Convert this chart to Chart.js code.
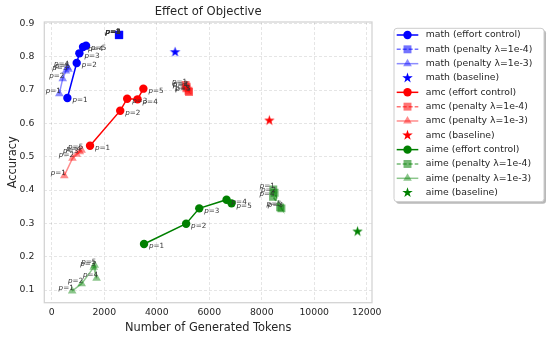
<!DOCTYPE html>
<html>
<head>
<meta charset="utf-8">
<script src="https://cdn.jsdelivr.net/npm/chart.js@4"></script>
<style>
  html, body { margin: 0; padding: 0; background: #fff; }
  canvas { display: block; }
</style>
</head>
<body>
<canvas id="chart" width="548" height="342"></canvas>
<script>
// tick labels
const xTicks = [0, 2000, 4000, 6000, 8000, 10000, 12000];
const yTicks = [0.1, 0.2, 0.3, 0.4, 0.5, 0.6, 0.7, 0.8, 0.9];
const pLabels = ['1', '2', '3', '4', '5'];

// math
const mathEffortX = [597, 952, 1054, 1194, 1308];
const mathEffortY = [0.676, 0.781, 0.810, 0.829, 0.833];
const mathPen4X = [2555, 2565, 2560, 2570, 2575];
const mathPen4Y = [0.865, 0.866, 0.864, 0.865, 0.866];
const mathPen3X = [290, 420, 540, 600, 640];
const mathPen3Y = [0.689, 0.734, 0.757, 0.768, 0.762];
const mathBaseX = [4700];
const mathBaseY = [0.815];

// amc
const amcEffortX = [1460, 2610, 2875, 3270, 3492];
const amcEffortY = [0.533, 0.638, 0.674, 0.672, 0.704];
const amcPen4X = [5100, 5140, 5210, 5130, 5230];
const amcPen4Y = [0.715, 0.710, 0.698, 0.705, 0.694];
const amcPen3X = [480, 790, 950, 1070, 1140];
const amcPen3Y = [0.443, 0.495, 0.507, 0.515, 0.519];
const amcBaseX = [8290];
const amcBaseY = [0.610];

// aime
const aimeEffortX = [3517, 5120, 5620, 6660, 6850];
const aimeEffortY = [0.238, 0.299, 0.345, 0.371, 0.360];
const aimePen4X = [8440, 8490, 8750, 8430, 8700];
const aimePen4Y = [0.402, 0.392, 0.345, 0.380, 0.348];
const aimePen3X = [780, 1140, 1600, 1710, 1640];
const aimePen3Y = [0.097, 0.119, 0.168, 0.135, 0.174];
const aimeBaseX = [11650];
const aimeBaseY = [0.277];

const FONT = "'DejaVu Sans', sans-serif";
const TEXT = '#262626';
const rgba = (rgb, a) => `rgba(${rgb},${a})`;

// style per series kind
const KIND = {
    effort: { shape: 'circle', alpha: 1, dash: [], line: true, radius: 4.2 },
    pen4: { shape: 'rect', alpha: 0.55, dash: [4, 2], line: true, radius: 5.6 },
    pen3: { shape: 'triangle', alpha: 0.45, dash: [], line: true, radius: 5 },
    base: { shape: 'star', alpha: 1, dash: [], line: false, radius: 5.5 }
};

const series = [
    ['math (effort control)', mathEffortX, mathEffortY, '0,0,255', 'effort'],
    ['math (penalty λ=1e-4)', mathPen4X, mathPen4Y, '0,0,255', 'pen4'],
    ['math (penalty λ=1e-3)', mathPen3X, mathPen3Y, '0,0,255', 'pen3'],
    ['math (baseline)', mathBaseX, mathBaseY, '0,0,255', 'base'],
    ['amc (effort control)', amcEffortX, amcEffortY, '255,0,0', 'effort'],
    ['amc (penalty λ=1e-4)', amcPen4X, amcPen4Y, '255,0,0', 'pen4'],
    ['amc (penalty λ=1e-3)', amcPen3X, amcPen3Y, '255,0,0', 'pen3'],
    ['amc (baseline)', amcBaseX, amcBaseY, '255,0,0', 'base'],
    ['aime (effort control)', aimeEffortX, aimeEffortY, '0,128,0', 'effort'],
    ['aime (penalty λ=1e-4)', aimePen4X, aimePen4Y, '0,128,0', 'pen4'],
    ['aime (penalty λ=1e-3)', aimePen3X, aimePen3Y, '0,128,0', 'pen3'],
    ['aime (baseline)', aimeBaseX, aimeBaseY, '0,128,0', 'base']
];

function starPath(ctx, cx, cy, R) {
    const r = R * 0.382;
    ctx.beginPath();
    for (let k = 0; k < 10; k++) {
        const ang = -Math.PI / 2 + k * Math.PI / 5;
        const rad = k % 2 ? r : R;
        const px = cx + rad * Math.cos(ang), py = cy + rad * Math.sin(ang);
        k ? ctx.lineTo(px, py) : ctx.moveTo(px, py);
    }
    ctx.closePath();
}

function starImage(color, R) {
    const c = document.createElement('canvas');
    const s = Math.ceil(R * 2 + 2);
    c.width = c.height = s;
    const g = c.getContext('2d');
    g.fillStyle = color;
    starPath(g, s / 2, s / 2 + 0.5, R);
    g.fill();
    return c;
}

const datasets = series.map(([label, xs, ys, rgb, kind], i) => {
    const k = KIND[kind];
    const col = rgba(rgb, k.alpha);
    return {
        label, kind, rgb,
        data: xs.map((x, j) => ({ x, y: ys[j] })),
        showLine: k.line,
        borderColor: col, borderWidth: 1.5, borderDash: k.dash,
        pointStyle: kind === 'base' ? starImage(col, k.radius) : k.shape,
        pointRadius: k.radius, pointHoverRadius: k.radius,
        pointBackgroundColor: col, pointBorderColor: col, pointBorderWidth: 0,
        order: series.length - i
    };
});

// plot frame (all four spines)
const frame = {
    id: 'frame',
    afterDatasetsDraw(chart) {
        const { ctx, chartArea: a } = chart;
        ctx.save();
        ctx.strokeStyle = '#d2d2d2';
        ctx.lineWidth = 1.25;
        ctx.strokeRect(a.left, a.top, a.right - a.left, a.bottom - a.top);
        ctx.restore();
    }
};

// "p=N" annotations
const pointLabels = {
    id: 'pointLabels',
    afterDatasetsDraw(chart) {
        const ctx = chart.ctx;
        ctx.save();
        ctx.fillStyle = '#333';
        ctx.textBaseline = 'middle';
        chart.data.datasets.forEach((ds, i) => {
            if (ds.kind === 'base') return;
            chart.getDatasetMeta(i).data.forEach((el, j) => {
                const rest = '=' + pLabels[j];
                ctx.font = `italic 7.2px ${FONT}`;
                const wp = ctx.measureText('p').width;
                ctx.font = `7.2px ${FONT}`;
                const wr = ctx.measureText(rest).width;
                let x0, y0;
                if (ds.kind === 'effort') { x0 = el.x + 5; y0 = el.y + 2.5; }
                else { x0 = el.x - 6 - (wp + wr) / 2; y0 = el.y - 3; }
                ctx.textAlign = 'left';
                ctx.font = `italic 7.2px ${FONT}`;
                ctx.fillText('p', x0, y0);
                ctx.font = `7.2px ${FONT}`;
                ctx.fillText(rest, x0 + wp, y0);
            });
        });
        ctx.restore();
    }
};

// title, axis titles and legend box
const decorations = {
    id: 'decorations',
    afterDraw(chart) {
        const { ctx, chartArea: a } = chart;
        ctx.save();
        ctx.fillStyle = TEXT;
        ctx.textAlign = 'center';
        ctx.textBaseline = 'middle';
        ctx.font = `11.6px ${FONT}`;
        ctx.fillText('Effect of Objective', (a.left + a.right) / 2, 11.7);
        ctx.font = `11.4px ${FONT}`;
        ctx.fillText('Number of Generated Tokens', (a.left + a.right) / 2, 328.5);
        ctx.translate(12.7, (a.top + a.bottom) / 2);
        ctx.rotate(-Math.PI / 2);
        ctx.fillText('Accuracy', 0, 0);
        ctx.restore();

        // legend
        const bx = 394, by = 28.3, bw = 150, bh = 173.4;
        ctx.save();
        ctx.fillStyle = 'rgba(0,0,0,0.28)';
        ctx.beginPath();
        ctx.roundRect(bx + 2, by + 2, bw, bh, 3);
        ctx.fill();
        ctx.fillStyle = '#fff';
        ctx.strokeStyle = '#cccccc';
        ctx.lineWidth = 1;
        ctx.beginPath();
        ctx.roundRect(bx, by, bw, bh, 3);
        ctx.fill();
        ctx.stroke();

        chart.data.datasets.forEach((ds, i) => {
            const k = KIND[ds.kind];
            const col = rgba(ds.rgb, k.alpha);
            const y = 35 + i * 14.33;
            const mx = 407.5;
            if (k.line) {
                ctx.strokeStyle = col;
                ctx.lineWidth = 1.5;
                ctx.setLineDash(k.dash);
                ctx.beginPath();
                ctx.moveTo(396.7, y);
                ctx.lineTo(418.3, y);
                ctx.stroke();
                ctx.setLineDash([]);
            }
            ctx.fillStyle = col;
            ctx.beginPath();
            if (k.shape === 'circle') ctx.arc(mx, y, k.radius, 0, Math.PI * 2);
            else if (k.shape === 'rect') {
                const h = k.radius * Math.SQRT1_2;
                ctx.rect(mx - h, y - h, 2 * h, 2 * h);
            } else if (k.shape === 'triangle') {
                const r = k.radius;
                ctx.moveTo(mx, y - r);
                ctx.lineTo(mx + r * Math.sin(2 * Math.PI / 3), y + r / 2);
                ctx.lineTo(mx - r * Math.sin(2 * Math.PI / 3), y + r / 2);
                ctx.closePath();
            } else starPath(ctx, mx, y, k.radius);
            ctx.fill();

            ctx.fillStyle = TEXT;
            ctx.font = `9.3px ${FONT}`;
            ctx.textAlign = 'left';
            ctx.textBaseline = 'middle';
            ctx.fillText(ds.label, 425.7, y);
        });
        ctx.restore();
    }
};

const gridColor = 'rgba(0,0,0,0.10)';

new Chart(document.getElementById('chart'), {
    type: 'scatter',
    data: { datasets },
    options: {
        responsive: false,
        animation: false,
        devicePixelRatio: 1,
        layout: { padding: { left: 0, top: 22, right: 176, bottom: 0 } },
        plugins: { legend: { display: false }, tooltip: { enabled: false }, title: { display: false } },
        scales: {
            x: {
                type: 'linear', min: -282, max: 12200,
                afterBuildTicks: s => { s.ticks = xTicks.map(v => ({ value: v })); },
                afterFit: s => { s.height = 39.3; },
                grid: { color: gridColor, lineWidth: 1, drawTicks: false },
                border: { display: false, dash: [3, 2] },
                ticks: {
                    padding: 4, color: TEXT, autoSkip: false, maxRotation: 0,
                    font: { family: FONT, size: 9.3 },
                    callback: v => String(v)
                }
            },
            y: {
                type: 'linear', min: 0.062, max: 0.904,
                afterBuildTicks: s => { s.ticks = yTicks.map(v => ({ value: v })); },
                afterFit: s => { s.width = 44.3; },
                grid: { color: gridColor, lineWidth: 1, drawTicks: false },
                border: { display: false, dash: [3, 2] },
                ticks: {
                    padding: 10, color: TEXT, autoSkip: false,
                    font: { family: FONT, size: 9.3 },
                    callback: v => v.toFixed(1)
                }
            }
        }
    },
    plugins: [frame, pointLabels, decorations]
});
</script>
</body>
</html>
